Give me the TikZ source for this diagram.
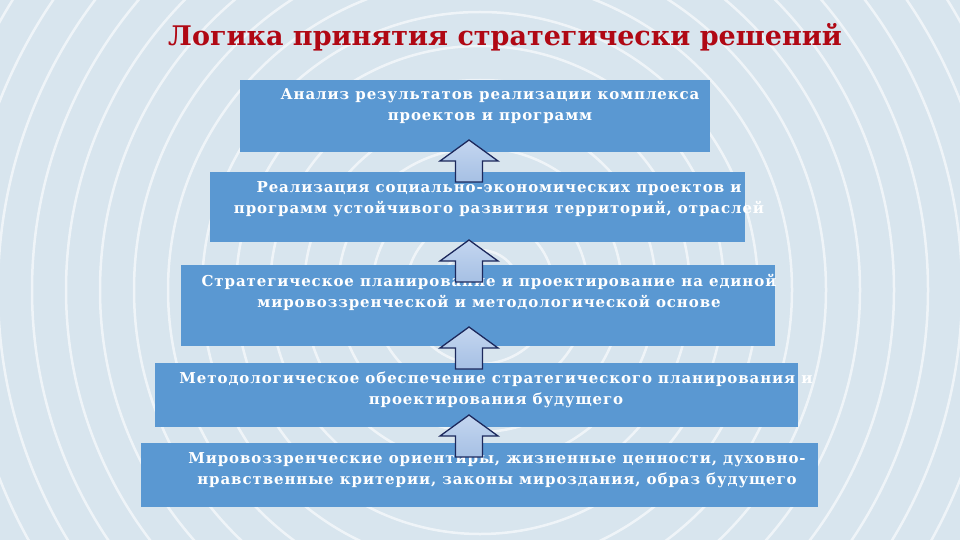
\documentclass[tikz,border=0pt]{standalone}
\usepackage{fontspec}
\setmainfont{DejaVu Serif}
\newfontfamily\boxfont[LetterSpace=6]{DejaVu Serif}
\usetikzlibrary{calc}
\definecolor{boxblue}{RGB}{90,152,210}
\definecolor{arrline}{RGB}{28,40,92}
\definecolor{arrtop}{RGB}{196,214,240}
\definecolor{arrbot}{RGB}{166,192,228}
\definecolor{titlered}{RGB}{176,8,20}
\definecolor{bgblue}{RGB}{216,229,238}
\tikzset{
  box/.style={fill=boxblue,inner sep=0pt},
  boxtext/.style={text=white,font=\boxfont\bfseries\fontsize{15}{21}\selectfont,align=center,inner sep=0pt},
  uparr/.style={draw=arrline,line width=1.3pt,top color=arrtop,bottom color=arrbot,line join=miter}
}
\begin{document}
\begin{tikzpicture}[x=1pt,y=-1pt]
  \fill[bgblue] (0,0) rectangle (960,540);
  \begin{scope}
    \clip (0,0) rectangle (960,540);
    \foreach \r in {40,74,...,720}
      \draw[white,line width=2.5pt,opacity=.6] (480,290) circle (\r);
  \end{scope}
  \useasboundingbox (0,0) rectangle (960,540);
  \node[font=\bfseries\fontsize{27}{32}\selectfont,text=titlered] (title) at (505,37)
    {Логика принятия стратегически решений};
  % blocks, bottom one is the base
  \foreach \n/\x/\y/\w/\h in
    {b1/475/116/470/72,
     b2/477.5/207/535/70,
     b3/478/305.5/594/81,
     b4/476.5/395/643/64,
     b5/479.5/475/677/64}
    \node[box,minimum width=\w pt,minimum height=\h pt] (\n) at (\x,\y) {};
  \foreach \n/\x/\y/\t in
    {t1/490/106.5/{Анализ результатов реализации комплекса\\проектов и программ},
     t2/499/199.5/{Реализация социально-экономических проектов и\\программ устойчивого развития территорий, отраслей},
     t3/489/292/{Стратегическое планирование и проектирование на единой\\мировоззренческой и методологической основе},
     t4/496/390/{Методологическое обеспечение стратегического планирования и\\проектирования будущего},
     t5/497/470/{Мировоззренческие ориентиры, жизненные ценности, духовно-\\нравственные критерии, законы мироздания, образ будущего}}
    \node[boxtext] (\n) at (\x,\y) {\t};
  \foreach \a/\b/\d in {b2/b1/-22,b3/b2/-13.5,b4/b3/-27.5,b5/b4/-20}
    \draw[uparr] ($($(469,0 |- \a.north)!.5!(469,0 |- \b.south)$)+(0,\d)$)
      -- ++(29,21) -- ++(-15.5,0) -- ++(0,21) -- ++(-27,0) -- ++(0,-21) -- ++(-15.5,0) -- cycle;
\end{tikzpicture}
\end{document}
